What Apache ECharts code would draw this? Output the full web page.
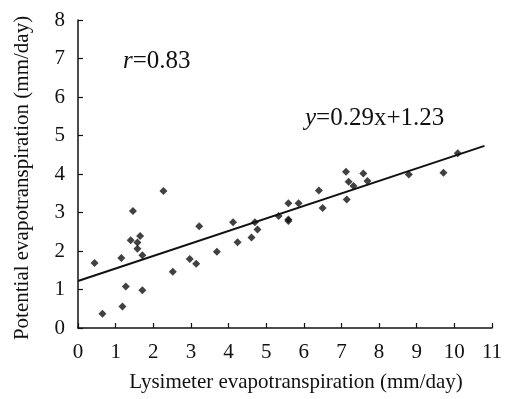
<!DOCTYPE html>
<html>
<head>
<meta charset="UTF-8">
<title>Lysimeter vs potential ET</title>
<script src="https://cdn.jsdelivr.net/npm/echarts@6/dist/echarts.min.js"></script>
<style>
  html, body { margin: 0; padding: 0; background: #fff; }
  #chart { width: 506px; height: 399px; }
</style>
</head>
<body>
<div id="chart"></div>
<script>
// lysimeter ET (x) vs potential ET (y), mm/day
var lysimeterET = [0.44, 0.65, 1.15, 1.18, 1.27, 1.40, 1.46, 1.58, 1.58, 1.65, 1.71, 1.71,
  2.27, 2.52, 2.97, 3.14, 3.22, 3.69, 4.12, 4.24, 4.61, 4.70, 4.77, 5.33, 5.59, 5.59, 5.59,
  5.86, 6.40, 6.50, 7.12, 7.14, 7.19, 7.32, 7.58, 7.69, 8.79, 9.71, 10.09];
var potentialET = [1.69, 0.37, 1.82, 0.56, 1.08, 2.28, 3.04, 2.22, 2.06, 2.39, 1.89, 0.98,
  3.56, 1.46, 1.79, 1.67, 2.64, 1.98, 2.75, 2.23, 2.35, 2.75, 2.56, 2.91, 3.24, 2.82, 2.78,
  3.24, 3.57, 3.12, 4.06, 3.34, 3.80, 3.69, 4.01, 3.82, 3.99, 4.03, 4.54];
// fitted line as drawn (end points)
var fitX = [0, 10.8];
var fitY = [1.22, 4.73];
var xTicks = [0, 1, 2, 3, 4, 5, 6, 7, 8, 9, 10, 11];
var yTicks = [0, 1, 2, 3, 4, 5, 6, 7, 8];

var points = lysimeterET.map(function (x, i) { return [x, potentialET[i]]; });
var fitLine = fitX.map(function (x, i) { return [x, fitY[i]]; });

var serif = '"Liberation Serif", "DejaVu Serif", serif';
var chart = echarts.init(document.getElementById('chart'));

var option = {
  backgroundColor: '#fff',
  animation: false,
  textStyle: { fontFamily: serif, color: '#111' },
  grid: { left: 78, right: 14, top: 20, bottom: 71 },
  xAxis: {
    type: 'value',
    min: xTicks[0], max: xTicks[xTicks.length - 1], interval: 1,
    name: 'Lysimeter evapotranspiration (mm/day)',
    nameLocation: 'middle', nameGap: 44,
    nameTextStyle: { fontFamily: serif, fontSize: 21, color: '#111', padding: [0, 0, 0, 22] },
    axisLine: { lineStyle: { color: '#111', width: 1.5 } },
    axisTick: { inside: true, length: 5, lineStyle: { color: '#111', width: 1.2 } },
    axisLabel: { fontFamily: serif, fontSize: 21, color: '#111', margin: 14 },
    splitLine: { show: false }
  },
  yAxis: {
    type: 'value',
    min: yTicks[0], max: yTicks[yTicks.length - 1], interval: 1,
    name: 'Potential evapotranspiration (mm/day)',
    nameLocation: 'middle', nameGap: 45,
    nameTextStyle: { fontFamily: serif, fontSize: 21, color: '#111', padding: [0, 8, 0, 0] },
    axisLine: { show: true, lineStyle: { color: '#111', width: 1.5 } },
    axisTick: { show: true, inside: true, length: 5, lineStyle: { color: '#111', width: 1.2 } },
    axisLabel: { fontFamily: serif, fontSize: 21, color: '#111', margin: 13 },
    splitLine: { show: false }
  },
  series: [
    {
      type: 'scatter',
      data: points,
      symbol: 'diamond',
      symbolSize: 8,
      itemStyle: { color: '#111' }
    },
    {
      type: 'line',
      data: fitLine,
      showSymbol: false,
      lineStyle: { color: '#111', width: 2 },
      z: 1
    }
  ],
  graphic: [
    {
      type: 'text', left: 123, top: 49,
      style: {
        text: '{i|r}=0.83',
        fontFamily: serif, fontSize: 25, fill: '#111',
        rich: { i: { fontStyle: 'italic', fontFamily: serif, fontSize: 25, fill: '#111' } }
      }
    },
    {
      type: 'text', left: 305, top: 106,
      style: {
        text: '{i|y}=0.29x+1.23',
        fontFamily: serif, fontSize: 25, fill: '#111',
        rich: { i: { fontStyle: 'italic', fontFamily: serif, fontSize: 25, fill: '#111' } }
      }
    }
  ]
};

chart.setOption(option);
</script>
</body>
</html>
